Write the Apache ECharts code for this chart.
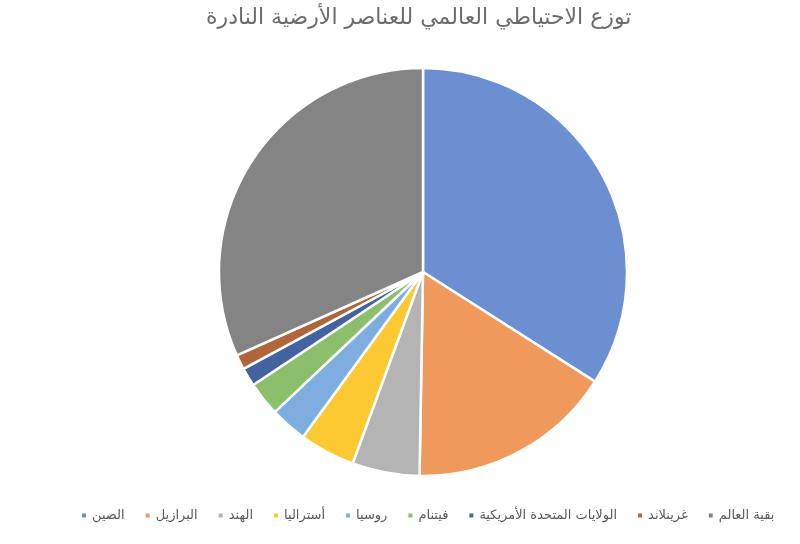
<!DOCTYPE html>
<html><head><meta charset="utf-8">
<script src="https://cdn.jsdelivr.net/npm/echarts@6/dist/echarts.min.js"></script>
<style>html,body{margin:0;padding:0;background:#fff}#c{width:800px;height:544px}</style>
</head><body><div id="c"></div>
<script>
const titleText = 'توزع الاحتياطي العالمي للعناصر الأرضية النادرة';
const categories = ['الصين','البرازيل','الهند','أستراليا','روسيا','فيتنام','الولايات المتحدة الأمريكية','غرينلاند','بقية العالم'];
const values = [44, 21, 6.9, 5.7, 3.8, 3.5, 1.9, 1.5, 41];
const colors = ['#6b8fd0','#ef9a5c','#b4b4b4','#fdc933','#7daedf','#8cbf6b','#42639f','#b0663a','#848484'];

const chart = echarts.init(document.getElementById('c'));
chart.setOption({
  backgroundColor: '#fff',
  animation: false,
  color: colors,
  title: {
    text: titleText, left: 201, top: 2,
    textStyle: {fontFamily: 'DejaVu Sans, sans-serif', fontSize: 22, fontWeight: 'normal', color: '#6b6b6b'}
  },
  legend: {
    bottom: 17, left: 75,
    icon: 'rect', itemWidth: 6, itemHeight: 6, itemGap: 19,
    textStyle: {fontFamily: 'DejaVu Sans, sans-serif', fontSize: 13, color: '#595959'},
    data: categories
  },
  series: [{
    type: 'pie',
    center: [423, 272],
    radius: [0, 204],
    startAngle: 90,
    clockwise: true,
    label: {show: false},
    labelLine: {show: false},
    itemStyle: {borderColor: '#fff', borderWidth: 2.5},
    emphasis: {disabled: true},
    data: categories.map((c, i) => ({name: c, value: values[i]}))
  }]
});
</script></body></html>
